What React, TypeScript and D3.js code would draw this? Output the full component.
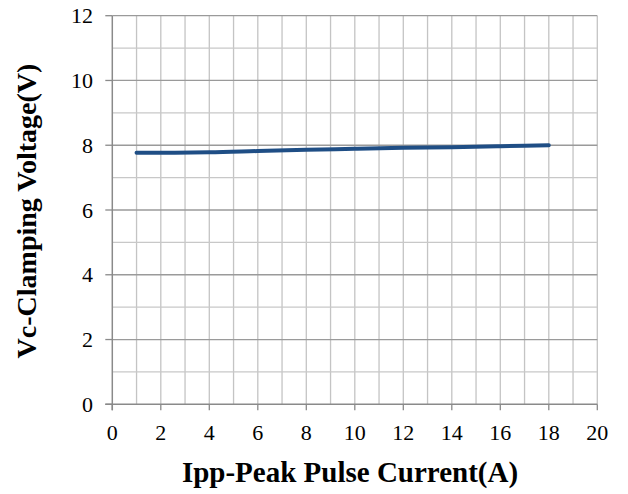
import React from "react";
import * as d3 from "d3";

const currents = [1, 2, 4, 6, 8, 10, 12, 14, 16, 18];
const voltages = [7.77, 7.77, 7.78, 7.82, 7.86, 7.89, 7.92, 7.94, 7.97, 8.0];
const xTicks = [0, 2, 4, 6, 8, 10, 12, 14, 16, 18, 20];
const yTicks = [0, 2, 4, 6, 8, 10, 12];
const xTitle = "Ipp-Peak Pulse Current(A)";
const yTitle = "Vc-Clamping Voltage(V)";

export default function App() {
  const W = 628, H = 494;
  const left = 112.3, right = 597.3, top = 15.7, bottom = 404.3;
  const x = d3.scaleLinear().domain([0, 20]).range([left, right]);
  const y = d3.scaleLinear().domain([0, 12]).range([bottom, top]);
  const minorX = d3.range(1, 21);
  const minorY = d3.range(1, 13);
  const line = d3
    .line<number>()
    .x((_, i) => x(currents[i]))
    .y((d) => y(d))
    .curve(d3.curveMonotoneX);
  return (
    <svg width={W} height={H} style={{ position: "absolute", left: 0, top: 0 }} fontFamily="'Liberation Serif', 'Times New Roman', serif">
      <rect width={W} height={H} fill="#fff" />
      {minorX.map((v) => (
        <line key={"vx" + v} x1={x(v)} x2={x(v)} y1={top} y2={bottom} stroke="#c4c4c4" strokeWidth={1.3} />
      ))}
      {minorY.filter((v) => v % 2 === 1).map((v) => (
        <line key={"hy" + v} x1={left} x2={right} y1={y(v)} y2={y(v)} stroke="#c8c8c8" strokeWidth={1.3} />
      ))}
      {minorY.filter((v) => v % 2 === 0).map((v) => (
        <line key={"Hy" + v} x1={left} x2={right} y1={y(v)} y2={y(v)} stroke="#9a9a9a" strokeWidth={1.3} />
      ))}
      <line x1={left} x2={left} y1={top} y2={bottom + 6} stroke="#8a8a8a" strokeWidth={1.5} />
      <line x1={left - 7} x2={right} y1={bottom} y2={bottom} stroke="#8a8a8a" strokeWidth={1.5} />
      {xTicks.map((v) => (
        <g key={"xt" + v}>
          <line x1={x(v)} x2={x(v)} y1={bottom} y2={bottom + 6} stroke="#8a8a8a" strokeWidth={1.3} />
          <text x={x(v)} y={440} textAnchor="middle" fontSize={22} fill="#000">{v}</text>
        </g>
      ))}
      {yTicks.map((v) => (
        <g key={"yt" + v}>
          <line x1={left - 7} x2={left} y1={y(v)} y2={y(v)} stroke="#8a8a8a" strokeWidth={1.3} />
          <text x={93} y={y(v) + 7.5} textAnchor="end" fontSize={22} fill="#000">{v}</text>
        </g>
      ))}
      <path d={line(voltages) || ""} fill="none" stroke="#1f4e85" strokeWidth={4} strokeLinecap="round" />
      <text x={350} y={482} textAnchor="middle" fontSize={29} fontWeight="bold" fill="#000">{xTitle}</text>
      <text transform={`translate(36, 211) rotate(-90)`} textAnchor="middle" fontSize={28} fontWeight="bold" fill="#000">{yTitle}</text>
    </svg>
  );
}
